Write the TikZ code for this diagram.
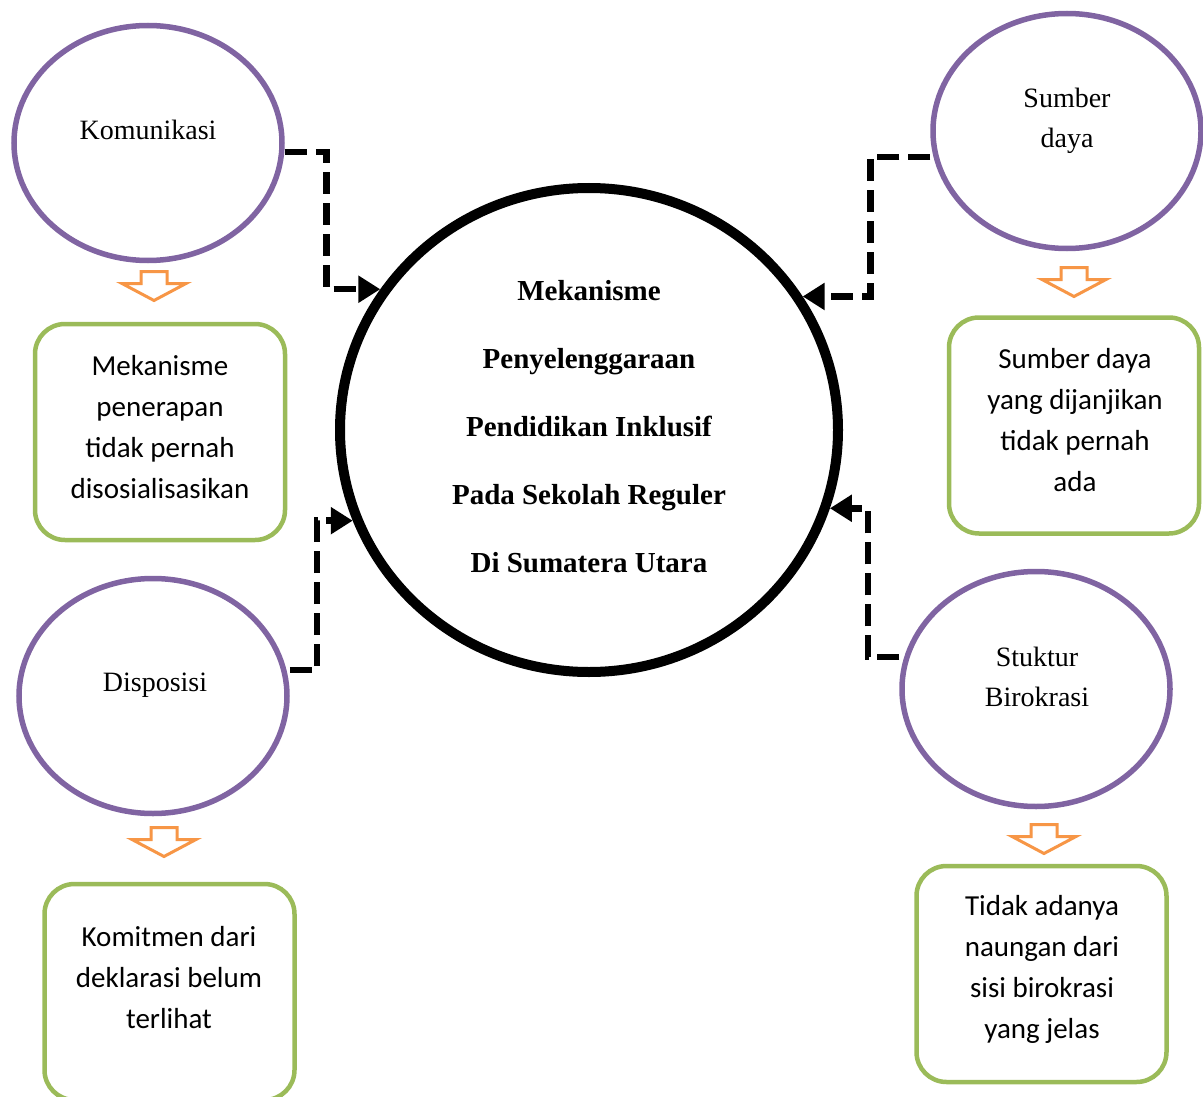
\documentclass[tikz,border=0pt]{standalone}
\usepackage{fontspec}
\setmainfont{Liberation Serif}
\newfontfamily\calfont{Carlito}
\usetikzlibrary{shapes.geometric,arrows.meta}
\definecolor{purp}{HTML}{8064A2}
\definecolor{grn}{HTML}{9BBB59}
\definecolor{orng}{HTML}{F79646}
\tikzset{
  oval/.style={ellipse,draw=purp,line width=5.5pt,minimum width=268pt,minimum height=235pt,inner sep=0pt},
  ovaltext/.style={align=center,font=\fontsize{28}{40}\selectfont,inner sep=0pt},
  gbox/.style={draw=grn,line width=4.5pt,rounded corners=30pt,minimum width=250pt,minimum height=216pt,inner sep=0pt},
  boxtext/.style={align=center,font=\calfont\fontsize{29}{41}\selectfont,inner sep=0pt},
  conn/.style={line width=6.5pt,dash pattern=on 22pt off 9pt,-{Triangle[length=22pt,width=26pt]}},
  downarr/.pic={\draw[line width=3pt,draw=orng,fill=white,line join=miter]
     (-13,0) -- (13,0) -- (13,12) -- (32,12) -- (0,29) -- (-32,12) -- (-13,12) -- cycle;}
}
\begin{document}
\begin{tikzpicture}[x=1pt,y=-1pt]
\useasboundingbox (0,0) rectangle (1203,1097);
% central circle
\node[ellipse,draw=black,line width=10pt,minimum width=498pt,minimum height=484pt,inner sep=0pt] (mek) at (589,430) {};
\node[align=center,font=\bfseries\fontsize{29}{68}\selectfont,inner sep=0pt] (mekt) at (589,427)
  {Mekanisme\\Penyelenggaraan\\Pendidikan Inklusif\\Pada Sekolah Reguler\\Di Sumatera Utara};
% ovals
\node[oval] (kom) at (148,143) {};
\node[ovaltext] (komt) at (148,130) {Komunikasi};
\node[oval] (sum) at (1067,131) {};
\node[ovaltext] (sumt) at (1067,121) {Sumber\\daya};
\node[oval] (dis) at (153,696) {};
\node[ovaltext] (dist) at (155,685) {Disposisi};
\node[oval] (stu) at (1036,689) {};
\node[ovaltext] (stut) at (1037,677) {Stuktur\\Birokrasi};
% boxes
\node[gbox] (b1) at (160,432) {};
\node[boxtext] (b1t) at (160,427) {Mekanisme\\penerapan\\tidak pernah\\disosialisasikan};
\node[gbox] (b2) at (1074,425.5) {};
\node[boxtext] (b2t) at (1075,420.5) {Sumber daya\\yang dijanjikan\\tidak pernah\\ada};
\node[gbox] (b3) at (169.5,992) {};
\node[boxtext] (b3t) at (169,977.5) {Komitmen dari\\deklarasi belum\\terlihat};
\node[gbox] (b4) at (1041.5,974) {};
\node[boxtext] (b4t) at (1042,969.5) {Tidak adanya\\naungan dari\\sisi birokrasi\\yang jelas};
% orange arrows
\pic at (154,271.5) {downarr};
\pic at (1074,267.5) {downarr};
\pic at (164,827.5) {downarr};
\pic at (1044,824.5) {downarr};
% dashed connectors
\draw[conn] ([yshift=-9pt]kom.east) -| ([xshift=-54pt]mek.146) -- (mek.146);
\draw[conn] ([yshift=-26pt]sum.west) -| ([xshift=68pt]mek.32) -- (mek.32);
\draw[conn] ([yshift=26pt]dis.east) -| ([xshift=-36pt]mek.201) -- (mek.201);
\draw[conn] ([yshift=32pt]stu.west) -| ([xshift=38pt]mek.342) -- (mek.342);
\end{tikzpicture}
\end{document}
